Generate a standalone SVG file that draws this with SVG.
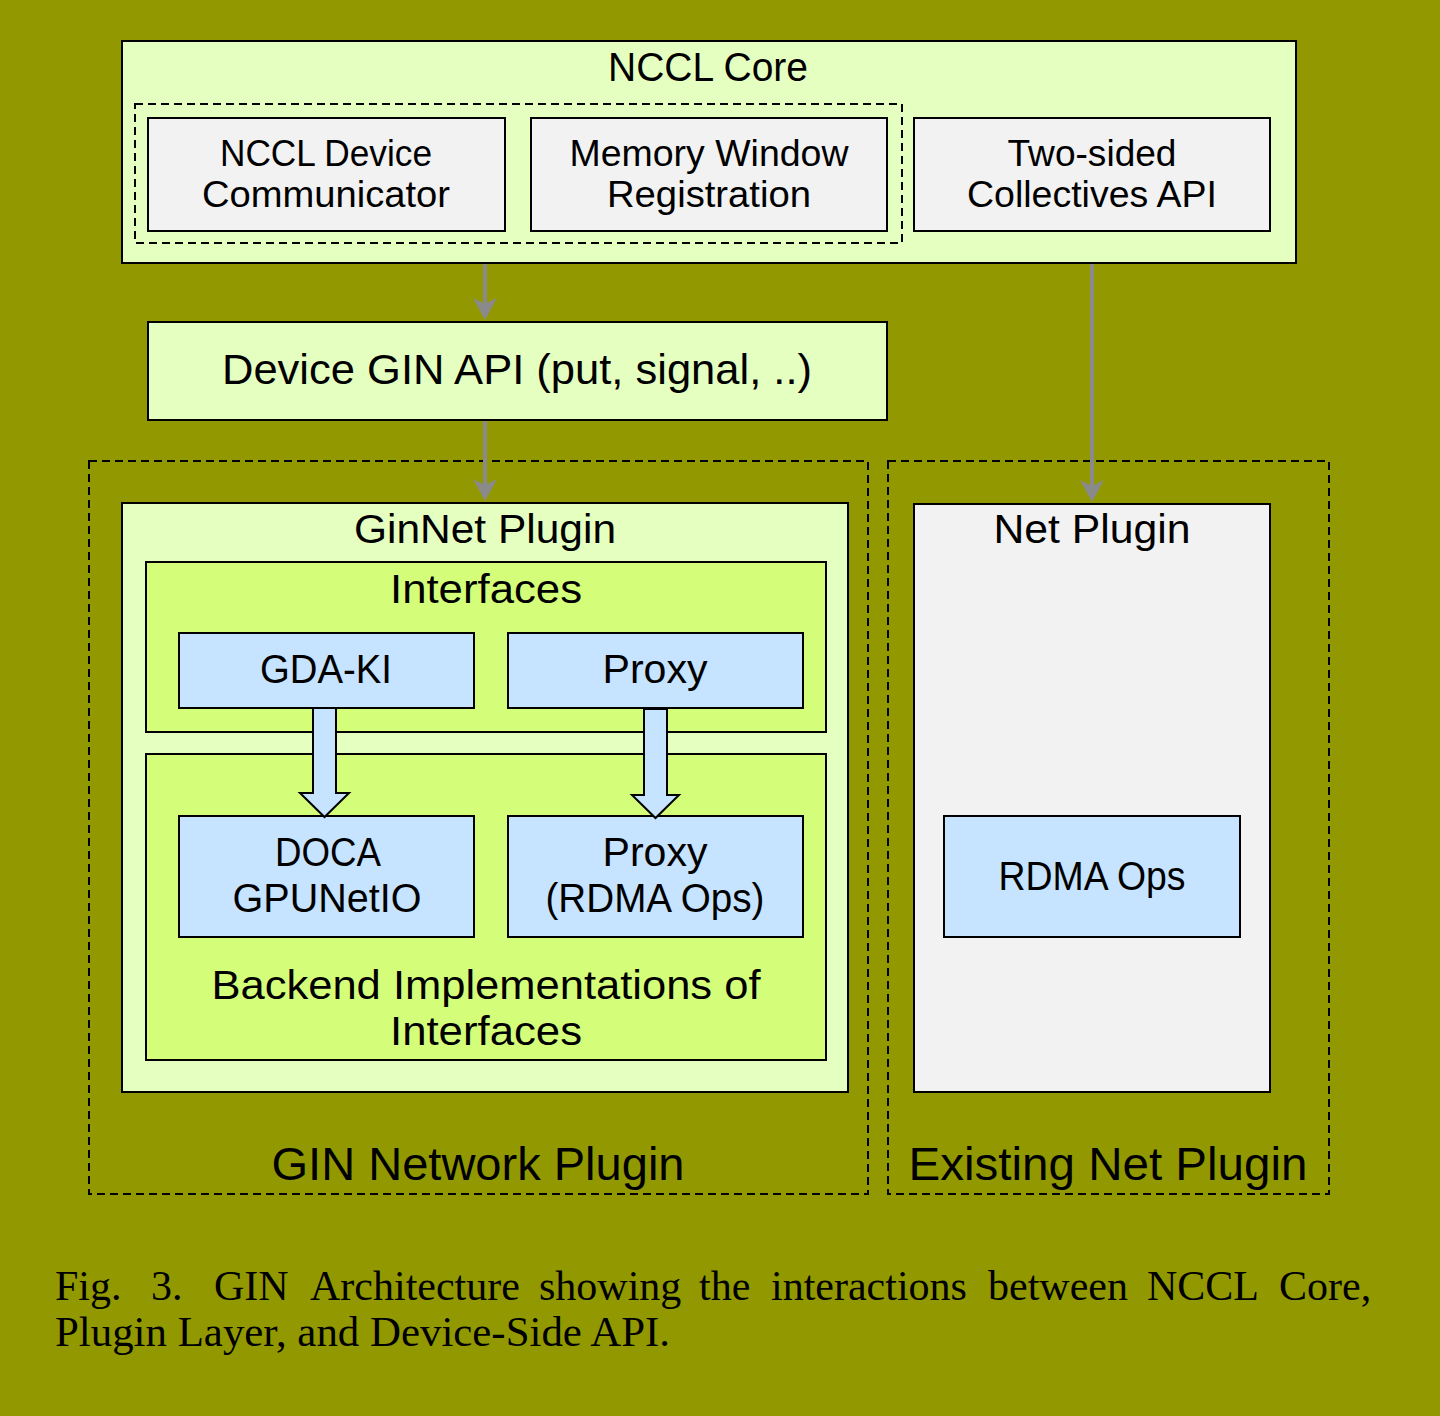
<svg xmlns="http://www.w3.org/2000/svg" width="1440" height="1416" viewBox="0 0 1440 1416">
<style>
.t{font-family:"Liberation Sans",Arial,sans-serif;fill:#000;text-anchor:middle}
.box{stroke:#000;stroke-width:2}
.lg{fill:#e4ffc0}
.gr{fill:#f2f2f2}
.bl{fill:#c6e4ff}
.yg{fill:#d4fe7a}
.dash{fill:none;stroke:#000;stroke-width:2;stroke-dasharray:8 5}
.conn{stroke:#8a8a8a;stroke-width:4;fill:none}
.hollow{fill:#c6e4ff;stroke:#000;stroke-width:2;stroke-linejoin:miter}
.cap{font-family:"Liberation Serif","Times New Roman",serif;font-size:42px;fill:#000}
</style>
<defs>
<marker id="ah" viewBox="0 0 22 24" refX="12" refY="12" markerWidth="22" markerHeight="24" markerUnits="userSpaceOnUse" orient="auto">
<path d="M0,0 L22,12 L0,24 L6,12 Z" fill="#8a8a8a"/>
</marker>
</defs>
<rect width="1440" height="1416" fill="#929900"/>

<g id="gin-network-plugin">
<rect class="dash" x="89" y="461" width="779" height="733"/>
<text class="t" x="478" y="1180" font-size="46" textLength="413" lengthAdjust="spacingAndGlyphs">GIN Network Plugin</text>
</g>
<g id="existing-net-plugin">
<rect class="dash" x="888" y="461" width="441" height="733"/>
<text class="t" x="1108" y="1180" font-size="46" textLength="399" lengthAdjust="spacingAndGlyphs">Existing Net Plugin</text>
</g>

<g id="nccl-core">
<rect class="box lg" x="122" y="41" width="1174" height="222"/>
<text class="t" x="708" y="81" font-size="40" textLength="200" lengthAdjust="spacingAndGlyphs">NCCL Core</text>
<rect class="dash" x="135" y="104" width="767" height="139"/>
</g>
<g id="nccl-device-communicator">
<rect class="box gr" x="148" y="118" width="357" height="113"/>
<text class="t" x="326" y="166" font-size="37" textLength="212" lengthAdjust="spacingAndGlyphs">NCCL Device</text>
<text class="t" x="326" y="207" font-size="37" textLength="248" lengthAdjust="spacingAndGlyphs">Communicator</text>
</g>
<g id="memory-window-registration">
<rect class="box gr" x="531" y="118" width="356" height="113"/>
<text class="t" x="709" y="166" font-size="37" textLength="279" lengthAdjust="spacingAndGlyphs">Memory Window</text>
<text class="t" x="709" y="207" font-size="37" textLength="204" lengthAdjust="spacingAndGlyphs">Registration</text>
</g>
<g id="two-sided-collectives">
<rect class="box gr" x="914" y="118" width="356" height="113"/>
<text class="t" x="1092" y="166" font-size="37" textLength="169" lengthAdjust="spacingAndGlyphs">Two-sided</text>
<text class="t" x="1092" y="207" font-size="37" textLength="250" lengthAdjust="spacingAndGlyphs">Collectives API</text>
</g>

<g id="device-gin-api">
<rect class="box lg" x="148" y="322" width="739" height="98"/>
<text class="t" x="517" y="384" font-size="42" textLength="590" lengthAdjust="spacingAndGlyphs">Device GIN API (put, signal, ..)</text>
</g>

<g id="ginnet-plugin">
<rect class="box lg" x="122" y="503" width="726" height="589"/>
<text class="t" x="485" y="543" font-size="40" textLength="262" lengthAdjust="spacingAndGlyphs">GinNet Plugin</text>
</g>
<g id="interfaces">
<rect class="box yg" x="146" y="562" width="680" height="170"/>
<text class="t" x="486" y="603" font-size="40" textLength="192" lengthAdjust="spacingAndGlyphs">Interfaces</text>
</g>
<g id="gda-ki">
<rect class="box bl" x="179" y="633" width="295" height="75"/>
<text class="t" x="326" y="683" font-size="40" textLength="132" lengthAdjust="spacingAndGlyphs">GDA-KI</text>
</g>
<g id="proxy">
<rect class="box bl" x="508" y="633" width="295" height="75"/>
<text class="t" x="655" y="683" font-size="40" textLength="105" lengthAdjust="spacingAndGlyphs">Proxy</text>
</g>
<g id="backend">
<rect class="box yg" x="146" y="754" width="680" height="306"/>
<text class="t" x="486" y="999" font-size="40" textLength="549" lengthAdjust="spacingAndGlyphs">Backend Implementations of</text>
<text class="t" x="486" y="1045" font-size="40" textLength="192" lengthAdjust="spacingAndGlyphs">Interfaces</text>
</g>
<g id="doca-gpunetio">
<rect class="box bl" x="179" y="816" width="295" height="121"/>
<text class="t" x="328" y="866" font-size="40" textLength="106" lengthAdjust="spacingAndGlyphs">DOCA</text>
<text class="t" x="327" y="912" font-size="40" textLength="189" lengthAdjust="spacingAndGlyphs">GPUNetIO</text>
</g>
<g id="proxy-rdma">
<rect class="box bl" x="508" y="816" width="295" height="121"/>
<text class="t" x="655" y="866" font-size="40" textLength="105" lengthAdjust="spacingAndGlyphs">Proxy</text>
<text class="t" x="655" y="912" font-size="40" textLength="219" lengthAdjust="spacingAndGlyphs">(RDMA Ops)</text>
</g>

<g id="net-plugin">
<rect class="box gr" x="914" y="504" width="356" height="588"/>
<text class="t" x="1092" y="543" font-size="40" textLength="197" lengthAdjust="spacingAndGlyphs">Net Plugin</text>
</g>
<g id="rdma-ops">
<rect class="box bl" x="944" y="816" width="296" height="121"/>
<text class="t" x="1092" y="890" font-size="40" textLength="187" lengthAdjust="spacingAndGlyphs">RDMA Ops</text>
</g>

<g id="connectors">
<line class="conn" x1="485" y1="264" x2="485" y2="310" marker-end="url(#ah)"/>
<line class="conn" x1="485" y1="421" x2="485" y2="491" marker-end="url(#ah)"/>
<line class="conn" x1="1092" y1="264" x2="1092" y2="492" marker-end="url(#ah)"/>
<path class="hollow" d="M313,708 L336,708 L336,793 L349,793 L324.5,817 L300,793 L313,793 Z"/>
<path class="hollow" d="M644,709 L667,709 L667,795 L679,795 L655.5,818 L632,795 L644,795 Z"/>
</g>

<g id="caption">
<text class="cap" y="1300"><tspan x="55">Fig.</tspan><tspan x="151">3.</tspan><tspan x="214">GIN</tspan><tspan x="310">Architecture</tspan><tspan x="539">showing</tspan><tspan x="699">the</tspan><tspan x="771">interactions</tspan><tspan x="988">between</tspan><tspan x="1147">NCCL</tspan><tspan x="1279">Core,</tspan></text>
<text class="cap" x="55" y="1346" textLength="615" lengthAdjust="spacingAndGlyphs">Plugin Layer, and Device-Side API.</text>
</g>
</svg>
